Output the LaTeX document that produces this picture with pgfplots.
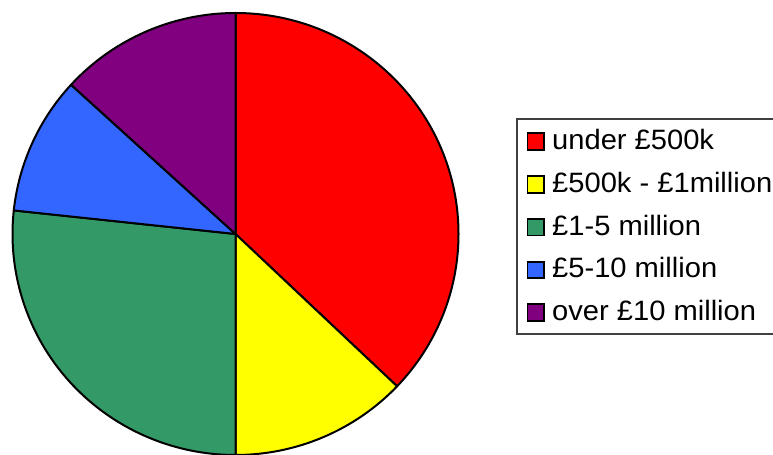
\documentclass[border=0pt]{standalone}
\usepackage{pgfplots}
\usepackage{pgfplotstable}
\pgfplotsset{compat=1.18}
\usepackage{fontspec}
\setmainfont{Liberation Sans}[FakeStretch=1.04]
\definecolor{pRed}{HTML}{FF0000}
\definecolor{pYellow}{HTML}{FFFF00}
\definecolor{pGreen}{HTML}{339966}
\definecolor{pBlue}{HTML}{3366FF}
\definecolor{pPurple}{HTML}{800080}

\pgfplotstableread{
idx value
0 37.1
1 12.9
2 26.7
3 10.1
4 13.2
}\piedata

\pgfplotstablegetelem{0}{value}\of\piedata \let\vA\pgfplotsretval
\pgfplotstablegetelem{1}{value}\of\piedata \let\vB\pgfplotsretval
\pgfplotstablegetelem{2}{value}\of\piedata \let\vC\pgfplotsretval
\pgfplotstablegetelem{3}{value}\of\piedata \let\vD\pgfplotsretval
\pgfplotstablegetelem{4}{value}\of\piedata \let\vE\pgfplotsretval
\pgfmathsetmacro\total{\vA+\vB+\vC+\vD+\vE}
\pgfmathsetmacro\aA{90}
\pgfmathsetmacro\aB{\aA-360*\vA/\total}
\pgfmathsetmacro\aC{\aB-360*\vB/\total}
\pgfmathsetmacro\aD{\aC-360*\vC/\total}
\pgfmathsetmacro\aE{\aD-360*\vD/\total}
\pgfmathsetmacro\aF{\aE-360*\vE/\total}

\def\cx{235.5}
\def\cy{221}
\def\rx{223}
\def\ry{221}

\newcommand\sector[3]{%
  \filldraw[fill=#1, draw=black, line width=2bp, line join=round]
    (axis cs:\cx,\cy) -- (axis cs:{\cx+\rx*cos(#2)},{\cy+\ry*sin(#2)})
    arc[start angle=#2, end angle=#3, x radius=\rx bp, y radius=\ry bp] -- cycle;}

\newcommand\legentry[3]{%
  \filldraw[fill=#1, draw=black, line width=1.8bp] (axis cs:527.5,#2-8.3) rectangle (axis cs:544,#2+8.3);
  \node[anchor=west, inner sep=0pt, font=\fontsize{28bp}{32bp}\selectfont] at (axis cs:552,#2-1.5) {\strut #3};}

\begin{document}
\begin{tikzpicture}
\begin{axis}[name=ax, scale only axis, width=773bp, height=455bp,
  xmin=0, xmax=773, ymin=0, ymax=455, hide axis, clip=false]
\sector{pRed}{\aA}{\aB}
\sector{pYellow}{\aB}{\aC}
\sector{pGreen}{\aC}{\aD}
\sector{pBlue}{\aD}{\aE}
\sector{pPurple}{\aE}{\aF}
% legend
\draw[line width=1.2bp, draw=black!75] (axis cs:517,336) rectangle (axis cs:790,121);
\legentry{pRed}{313.3}{under £500k}
\legentry{pYellow}{270.5}{£500k - £1million}
\legentry{pGreen}{227.8}{£1-5 million}
\legentry{pBlue}{185}{£5-10 million}
\legentry{pPurple}{142.3}{over £10 million}
\end{axis}
\pgfresetboundingbox
\useasboundingbox (ax.south west) rectangle (ax.north east);
\end{tikzpicture}
\end{document}
